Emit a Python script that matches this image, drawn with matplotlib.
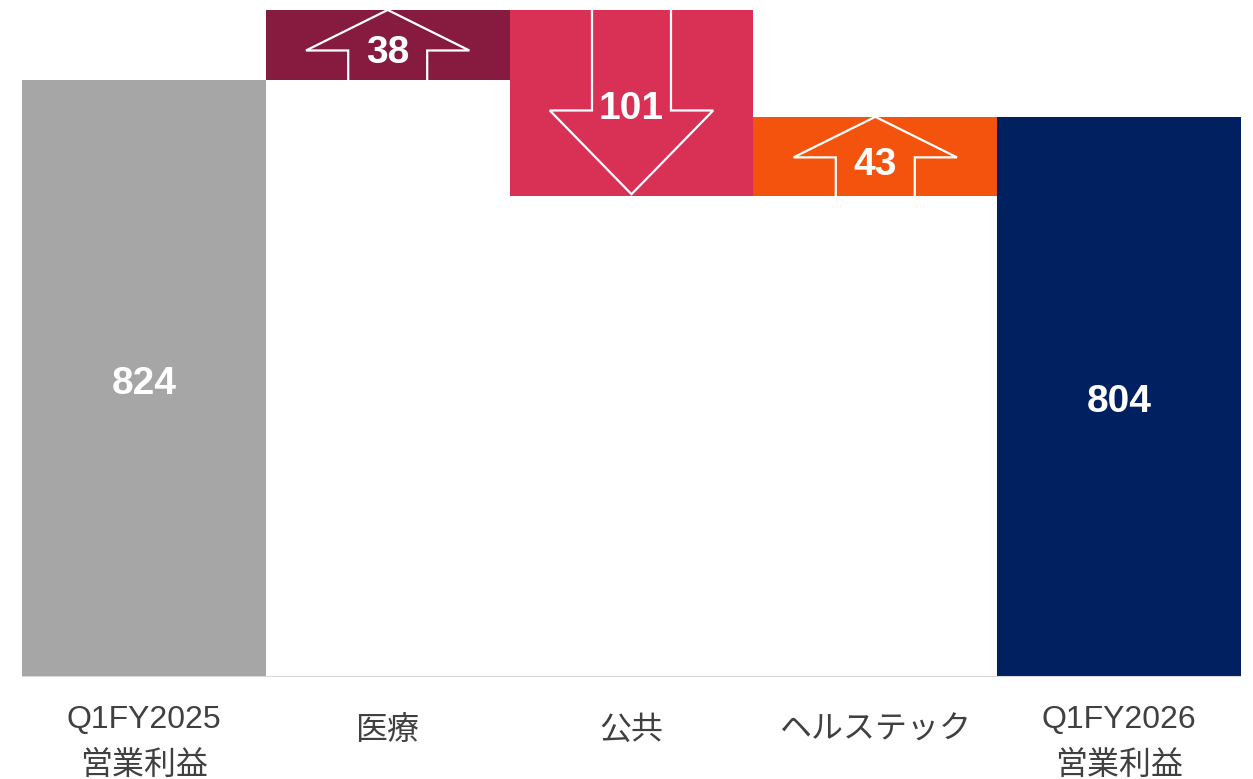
import matplotlib
matplotlib.use("Agg")
import matplotlib.pyplot as plt
from matplotlib.transforms import blended_transform_factory

plt.rcParams['font.family'] = ['Liberation Sans', 'Noto Sans CJK JP']

# operating profit bridge, Q1FY2025 -> Q1FY2026
labels = ["Q1FY2025\n営業利益", "医療", "公共", "ヘルステック", "Q1FY2026\n営業利益"]
start_value = 824
deltas = [38, -101, 43]
end_value = 804
colors = ["#a6a6a6", "#871b3f", "#d93156", "#f3530d", "#00205f"]

fig = plt.figure(figsize=(12.53, 7.79), dpi=100)
ax = fig.add_axes([22 / 1253, 102 / 779, 1219 / 1253, 677 / 779])
y_floor = 500
ax.set_xlim(-0.5, 4.5)
ax.set_ylim(y_floor, 867.4)


def value_label(x, y, txt, dy=-4):
    ax.annotate(txt, xy=(x, y), xytext=(0, dy), textcoords='offset points',
                ha='center', va='center', color='white', fontsize=28,
                fontweight='bold')


# totals
ax.bar(0, start_value - y_floor, bottom=y_floor, width=1.0, color=colors[0])
ax.bar(4, end_value - y_floor, bottom=y_floor, width=1.0, color=colors[4])
value_label(0, (start_value + y_floor) / 2, str(start_value))
value_label(4, (end_value + y_floor) / 2, str(end_value))

# floating deltas with hollow arrows
level = start_value
for i, d in enumerate(deltas):
    x = i + 1
    lo, hi = min(level, level + d), max(level, level + d)
    ax.bar(x, hi - lo, bottom=lo, width=1.0, color=colors[x])
    head = max(22, 0.45 * abs(d))
    hw, sw = 0.335, 0.162
    if d > 0:
        tip = hi
        base = tip - head
        xs = [x - sw, x - sw, x - hw, x, x + hw, x + sw, x + sw]
        ys = [lo, base, base, tip, base, base, lo]
    else:
        tip = lo + 1
        base = tip + head
        xs = [x - sw, x - sw, x - hw, x, x + hw, x + sw, x + sw]
        ys = [hi, base, base, tip, base, base, hi]
    ax.plot(xs, ys, color='white', lw=1.6, solid_joinstyle='miter')
    value_label(x, (lo + hi) / 2, str(abs(d)), dy=-4 if d < 0 else -6)
    level += d

ax.axhline(y_floor, color='#d9d9d9', lw=1.5)

trans = blended_transform_factory(ax.transData, ax.transAxes)
for i, lab in enumerate(labels):
    off = -20 if "\n" in lab else -28
    ax.annotate(lab, xy=(i, 0), xycoords=trans, xytext=(0, off),
                textcoords='offset points', ha='center', va='top',
                fontsize=23, color='#404040', linespacing=1.7)

for s in ax.spines.values():
    s.set_visible(False)
ax.set_xticks([])
ax.set_yticks([])

fig.savefig("out.png", dpi=100)
